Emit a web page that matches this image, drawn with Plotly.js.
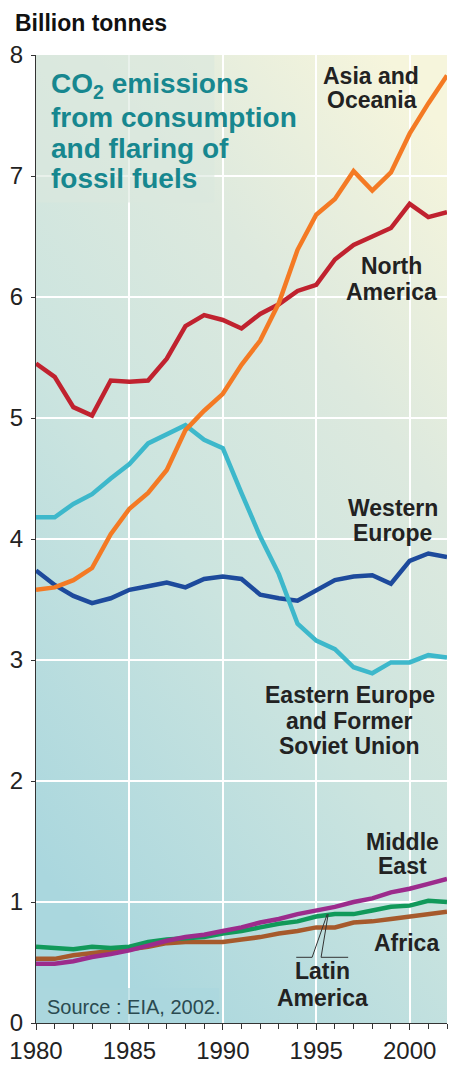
<!DOCTYPE html>
<html>
<head>
<meta charset="utf-8">
<script src="https://cdn.plot.ly/plotly-3.0.1.min.js"></script>
<style>
  html, body { margin: 0; padding: 0; background: #ffffff; }
  #chart { width: 456px; height: 1068px; }
</style>
</head>
<body>
<div id="chart"></div>
<script>
// ---- Data (billion tonnes CO2) ----
const years = [1980,1981,1982,1983,1984,1985,1986,1987,1988,1989,1990,1991,1992,1993,1994,1995,1996,1997,1998,1999,2000,2001,2002];

const asiaOceania   = [3.58,3.60,3.66,3.76,4.04,4.25,4.38,4.57,4.90,5.06,5.20,5.44,5.64,5.95,6.39,6.68,6.81,7.04,6.88,7.03,7.35,7.60,7.83];
const northAmerica  = [5.45,5.34,5.09,5.02,5.31,5.30,5.31,5.49,5.76,5.85,5.81,5.74,5.86,5.94,6.05,6.10,6.31,6.43,6.50,6.57,6.77,6.66,6.70];
const westernEurope = [3.74,3.62,3.53,3.47,3.51,3.58,3.61,3.64,3.60,3.67,3.69,3.67,3.54,3.51,3.49,3.57,3.66,3.69,3.70,3.63,3.82,3.88,3.85];
const easternEurope = [4.18,4.18,4.29,4.37,4.50,4.62,4.79,4.86,4.94,4.82,4.75,4.38,4.02,3.71,3.30,3.16,3.09,2.94,2.89,2.98,2.98,3.04,3.02];
const middleEast    = [0.49,0.49,0.51,0.545,0.57,0.60,0.64,0.68,0.71,0.73,0.76,0.79,0.83,0.86,0.90,0.93,0.96,1.00,1.03,1.08,1.11,1.15,1.19];
const latinAmerica  = [0.63,0.62,0.61,0.63,0.62,0.63,0.67,0.69,0.70,0.71,0.74,0.76,0.79,0.82,0.84,0.88,0.90,0.90,0.93,0.96,0.97,1.01,1.00];
const africa        = [0.53,0.53,0.56,0.58,0.595,0.61,0.63,0.66,0.67,0.67,0.67,0.69,0.71,0.74,0.76,0.79,0.79,0.83,0.84,0.86,0.88,0.90,0.92];

const yTicks = [0,1,2,3,4,5,6,7,8];
const xTicks = [1980,1985,1990,1995,2000];

const titleLines = ["CO<sub>2</sub> emissions","from consumption","and flaring of","fossil fuels"];
const yAxisLabel = "Billion tonnes";
const sourceText = "Source : EIA, 2002.";

// ---- Styling ----
const FONT = "Liberation Sans, Arial, Helvetica, sans-serif";
const LW = 4.5;

function series(y, color) {
  return { x: years, y: y, type: 'scatter', mode: 'lines',
           line: { color: color, width: LW }, hoverinfo: 'skip' };
}

const traces = [
  series(africa,        '#a65a2c'),
  series(latinAmerica,  '#11995a'),
  series(middleEast,    '#9c2b8c'),
  series(westernEurope, '#1d4a9c'),
  series(northAmerica,  '#c0222f'),
  series(easternEurope, '#3db8cb'),
  series(asiaOceania,   '#f47a24')
];

// background gradient as an inline SVG image (no network)
const svg = "<svg xmlns='http://www.w3.org/2000/svg' width='411' height='968' preserveAspectRatio='none'>" +
  "<defs><linearGradient id='g' x1='0.85' y1='0' x2='0.3' y2='1'>" +
  "<stop offset='0' stop-color='#f6f5dc'/>" +
  "<stop offset='0.3' stop-color='#dde9de'/>" +
  "<stop offset='0.6' stop-color='#cbe4df'/>" +
  "<stop offset='1' stop-color='#aad7de'/>" +
  "</linearGradient></defs><rect width='411' height='968' fill='url(#g)'/></svg>";
const bgSrc = "data:image/svg+xml;charset=utf-8," + encodeURIComponent(svg);

// label helper
function lab(text, x, y, opts) {
  return Object.assign({
    text: text, x: x, y: y, xref: 'x', yref: 'y', showarrow: false,
    xanchor: 'center', yanchor: 'middle',
    font: { family: FONT, size: 23, color: '#222222', weight: 'bold' }
  }, opts || {});
}

const titleYs = [7.75, 7.485, 7.23, 6.98];
const annotations = [];
titleLines.forEach((t, i) => {
  annotations.push(lab(t, 1980.72, titleYs[i], {
    xanchor: 'left',
    font: { family: FONT, size: 28, color: '#17878f', weight: 'bold' }
  }));
});

annotations.push(
  lab("Asia and", 1997.95, 7.83),
  lab("Oceania", 1998.0, 7.625),
  lab("North", 1999.05, 6.26),
  lab("America", 1999.05, 6.04),
  lab("Western", 1999.1, 4.26),
  lab("Europe", 1999.1, 4.05),
  lab("Eastern Europe", 1996.8, 2.71),
  lab("and Former", 1996.8, 2.495),
  lab("Soviet Union", 1996.8, 2.29),
  lab("Middle", 1999.6, 1.50),
  lab("East", 1999.6, 1.30),
  lab("Africa", 1999.82, 0.66),
  lab("Latin", 1995.35, 0.43),
  lab("America", 1995.35, 0.21),
  lab(sourceText, 1980.5, 0.13, {
    xanchor: 'left',
    font: { family: FONT, size: 20, color: '#2a4a50' }
  }),
  {
    text: yAxisLabel, xref: 'paper', yref: 'paper', x: -0.055, y: 1.033,
    xanchor: 'left', yanchor: 'middle', showarrow: false,
    font: { family: FONT, size: 23, color: '#111111', weight: 'bold' }
  }
);

const shapes = [
  // panel behind the title text hides the grid there
  { type: 'rect', xref: 'x', yref: 'y', x0: 1980, x1: 1989.55, y0: 6.78, y1: 8,
    layer: 'between', line: { width: 0 }, fillcolor: '#dbe8dd', opacity: 0.6 },
  // panel behind the source note
  { type: 'rect', xref: 'x', yref: 'y', x0: 1980, x1: 1989.8, y0: 0, y1: 0.29,
    layer: 'between', line: { width: 0 }, fillcolor: '#abd7de', opacity: 0.7 },
  // leader lines for "Latin America"
  { type: 'line', xref: 'x', yref: 'y', x0: 1993.93, y0: 0.543, x1: 1994.78, y1: 0.543, line: { color: '#333', width: 1 } },
  { type: 'line', xref: 'x', yref: 'y', x0: 1994.78, y0: 0.543, x1: 1995.59, y1: 0.90, line: { color: '#333', width: 1 } },
  { type: 'line', xref: 'x', yref: 'y', x0: 1995.26, y0: 0.543, x1: 1996.71, y1: 0.543, line: { color: '#333', width: 1 } },
  { type: 'line', xref: 'x', yref: 'y', x0: 1995.26, y0: 0.543, x1: 1995.64, y1: 0.90, line: { color: '#333', width: 1 } }
];

const layout = {
  width: 456, height: 1068,
  margin: { l: 36, r: 9, t: 55, b: 45, pad: 0 },
  paper_bgcolor: '#ffffff',
  plot_bgcolor: 'rgba(0,0,0,0)',
  showlegend: false,
  font: { family: FONT, color: '#222222' },
  xaxis: {
    range: [1980, 2002], tickvals: xTicks, ticktext: xTicks.map(String),
    showgrid: true, gridcolor: '#ffffff', gridwidth: 2,
    zeroline: false, showline: true, linecolor: '#333333', linewidth: 1,
    ticks: 'outside', ticklen: 6, tickcolor: '#333333', tickwidth: 1,
    minor: { dtick: 1, ticks: 'outside', ticklen: 5, tickcolor: '#333333', showgrid: false },
    tickfont: { family: FONT, size: 24, color: '#222222' },
    fixedrange: true
  },
  yaxis: {
    range: [0, 8], tickvals: yTicks, ticktext: yTicks.map(String),
    showgrid: true, gridcolor: '#ffffff', gridwidth: 2,
    zeroline: false, showline: true, linecolor: '#333333', linewidth: 1,
    ticks: 'outside', ticklen: 4, tickcolor: '#333333', tickwidth: 1,
    tickfont: { family: FONT, size: 24, color: '#222222' },
    ticklabelstandoff: 3,
    fixedrange: true
  },
  images: [{
    source: bgSrc, xref: 'paper', yref: 'paper', x: 0, y: 1, sizex: 1, sizey: 1,
    xanchor: 'left', yanchor: 'top', sizing: 'stretch', layer: 'below'
  }],
  annotations: annotations,
  shapes: shapes
};

Plotly.newPlot('chart', traces, layout, { displayModeBar: false, staticPlot: true });
</script>
</body>
</html>
